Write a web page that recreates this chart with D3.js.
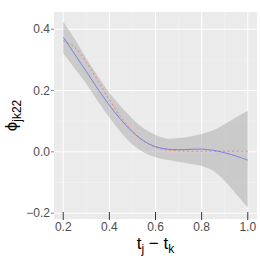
<!DOCTYPE html>
<meta charset="utf-8">
<style>
body{margin:0;background:white;}
svg{display:block;font-family:"Liberation Sans",Arial,sans-serif;}
.tick-label{font-size:12px;fill:#4d4d4d;}
</style>
<body>
<script src="https://cdn.jsdelivr.net/npm/d3@7"></script>
<script>
// x positions (t_j - t_k)
var xs = [0.20,0.25,0.30,0.35,0.40,0.45,0.50,0.55,0.60,0.65,0.70,0.75,0.80,0.85,0.90,0.95,1.00];
// fitted curve (blue)
var fit = [0.374,0.318,0.262,0.205,0.152,0.105,0.065,0.035,0.017,0.009,0.007,0.008,0.009,0.005,-0.003,-0.014,-0.027];
// confidence band
var lower = [0.322,0.272,0.222,0.165,0.112,0.064,0.024,-0.002,-0.018,-0.026,-0.032,-0.039,-0.046,-0.062,-0.095,-0.138,-0.181];
var upper = [0.425,0.368,0.305,0.247,0.193,0.148,0.108,0.076,0.055,0.043,0.045,0.050,0.058,0.070,0.090,0.113,0.134];
// true curve (red dotted)
var truth = [0.362,0.341,0.292,0.232,0.170,0.113,0.068,0.035,0.015,0.006,0.003,0.002,0.002,0.002,0.002,0.002,0.002];
// rug positions
var rug = [0.2,0.4,0.6,0.8,1.0];
var xTicks = [0.2,0.4,0.6,0.8,1.0];
var xMinor = [0.3,0.5,0.7,0.9];
var yTicks = [-0.2,0.0,0.2,0.4];
var yMinor = [-0.1,0.1,0.3];

var W = 260, H = 260;
var pL = 54, pR = 257, pT = 12, pB = 219;

var svg = d3.select("body").append("svg").attr("width", W).attr("height", H);

var x = d3.scaleLinear().domain([0.16,1.04]).range([pL,pR]);
var y = d3.scaleLinear().domain([-0.219,0.456]).range([pB,pT]);

svg.append("rect").attr("x",pL).attr("y",pT).attr("width",pR-pL).attr("height",pB-pT).attr("fill","#ebebeb");

var g = svg.append("g");
g.selectAll(".xminor").data(xMinor).enter().append("line")
  .attr("x1",d=>x(d)).attr("x2",d=>x(d)).attr("y1",pT).attr("y2",pB)
  .attr("stroke","#f5f5f5").attr("stroke-width",0.5);
g.selectAll(".yminor").data(yMinor).enter().append("line")
  .attr("y1",d=>y(d)).attr("y2",d=>y(d)).attr("x1",pL).attr("x2",pR)
  .attr("stroke","#f5f5f5").attr("stroke-width",0.5);
g.selectAll(".xmajor").data(xTicks).enter().append("line")
  .attr("x1",d=>x(d)).attr("x2",d=>x(d)).attr("y1",pT).attr("y2",pB)
  .attr("stroke","white").attr("stroke-width",1);
g.selectAll(".ymajor").data(yTicks).enter().append("line")
  .attr("y1",d=>y(d)).attr("y2",d=>y(d)).attr("x1",pL).attr("x2",pR)
  .attr("stroke","white").attr("stroke-width",1);

var pts = xs.map(function(v,i){ return {x:v, f:fit[i], lo:lower[i], hi:upper[i], t:truth[i]}; });

var area = d3.area().curve(d3.curveCatmullRom)
  .x(d=>x(d.x)).y0(d=>y(d.lo)).y1(d=>y(d.hi));
svg.append("path").datum(pts).attr("d",area).attr("fill","#999999").attr("fill-opacity",0.4);

var lineT = d3.line().curve(d3.curveCatmullRom).x(d=>x(d.x)).y(d=>y(d.t));
svg.append("path").datum(pts).attr("d",lineT).attr("fill","none")
  .attr("stroke","#f08080").attr("stroke-width",1).attr("stroke-dasharray","2,2.5");

var lineF = d3.line().curve(d3.curveCatmullRom).x(d=>x(d.x)).y(d=>y(d.f));
svg.append("path").datum(pts).attr("d",lineF).attr("fill","none")
  .attr("stroke","#6b6bf0").attr("stroke-width",0.8);

svg.selectAll(".rug").data(rug).enter().append("line")
  .attr("x1",d=>x(d)).attr("x2",d=>x(d)).attr("y1",pB-7).attr("y2",pB+1)
  .attr("stroke","#333").attr("stroke-width",1);

// y axis
svg.selectAll(".ytick").data(yTicks).enter().append("line")
  .attr("x1",pL-3).attr("x2",pL).attr("y1",d=>y(d)).attr("y2",d=>y(d))
  .attr("stroke","#333").attr("stroke-width",0.6);
svg.selectAll(".ylab").data(yTicks).enter().append("text")
  .attr("class","tick-label").attr("x",pL-4).attr("y",d=>y(d)+4.3)
  .attr("text-anchor","end").text(d=>d3.format(".1f")(d).replace("-","\u2212"));

// x axis labels
svg.selectAll(".xlab").data(xTicks).enter().append("text")
  .attr("class","tick-label").attr("x",d=>x(d)).attr("y",pB+12)
  .attr("text-anchor","middle").text(d=>d3.format(".1f")(d));

// axis titles
var xt = svg.append("text").attr("x",(pL+pR)/2).attr("y",249)
  .attr("text-anchor","middle").attr("fill","black").style("font-size","17px");
xt.append("tspan").text("t");
xt.append("tspan").attr("dy",4).style("font-size","12px").text("j");
xt.append("tspan").attr("dy",-4).text(" \u2212 t");
xt.append("tspan").attr("dy",4).style("font-size","12px").text("k");

var yt = svg.append("text").attr("transform","translate(17,"+((pT+pB)/2)+") rotate(-90)")
  .attr("text-anchor","middle").attr("fill","black").style("font-size","17px");
yt.append("tspan").text("\u03d5");
yt.append("tspan").attr("dy",4).style("font-size","12px").text("jk22");
</script>
